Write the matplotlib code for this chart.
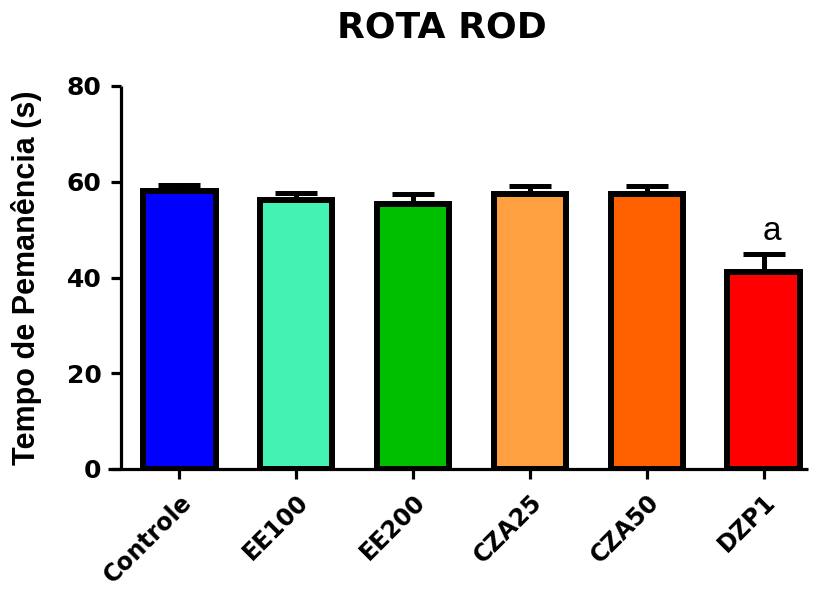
import matplotlib
matplotlib.use("Agg")
from matplotlib import pyplot as plt

plt.rcParams['font.family'] = ['Liberation Sans', 'DejaVu Sans']

groups = ['Controle', 'EE100', 'EE200', 'CZA25', 'CZA50', 'DZP1']
means = [58.0, 56.2, 55.3, 57.4, 57.5, 41.1]
sems = [1.3, 1.4, 2.1, 1.7, 1.6, 3.8]
colors = ['#0000FF', '#44F2B4', '#00BF00', '#FFA040', '#FF6000', '#FF0000']
yticks = [0, 20, 40, 60, 80]

fig = plt.figure(figsize=(8.15, 5.9), dpi=100)
ax = fig.add_axes([108 / 815, 121 / 590, 700 / 815, 383 / 590])

x = list(range(len(groups)))
ax.errorbar(x, means, yerr=[[0] * len(sems), sems], fmt='none', ecolor='black',
            elinewidth=3.6, capsize=15, capthick=3.6, zorder=1)
ax.bar(x, means, width=0.62, color=colors, edgecolor='black', linewidth=4.3, zorder=2)

# significance mark above DZP1
ax.text(5.07, means[5] + sems[5] + 2.9, 'a', ha='center', va='baseline', fontsize=24)

ax.set_xlim(-0.61, 5.38)
ax.set_ylim(0, 80)
ax.spines['left'].set_position(('data', -0.5))
ax.spines['top'].set_visible(False)
ax.spines['right'].set_visible(False)
for s in ['left', 'bottom']:
    ax.spines[s].set_linewidth(2.3)
    ax.spines[s].set_capstyle('butt')

ax.set_yticks(yticks)
ax.set_yticklabels([str(t) for t in yticks], fontsize=18, fontweight='bold',
                   family='DejaVu Sans')
ax.set_xticks(x)
ax.set_xticklabels(groups, rotation=45, ha='right', rotation_mode='anchor',
                   fontsize=17, fontweight='bold', family='DejaVu Sans')
ax.tick_params(axis='both', width=2.3, length=7, direction='out')
ax.tick_params(axis='y', pad=7)
ax.tick_params(axis='x', pad=8)
ax.set_ylabel('Tempo de Pemanência (s)', fontsize=22, fontweight='bold')
ax.yaxis.set_label_coords(-0.094, 0.5)

fig.text(442 / 815, 1 - 27 / 590, 'ROTA ROD', ha='center', va='center',
         fontsize=26, fontweight='bold', family='DejaVu Sans')

fig.savefig('out.png', dpi=100)
